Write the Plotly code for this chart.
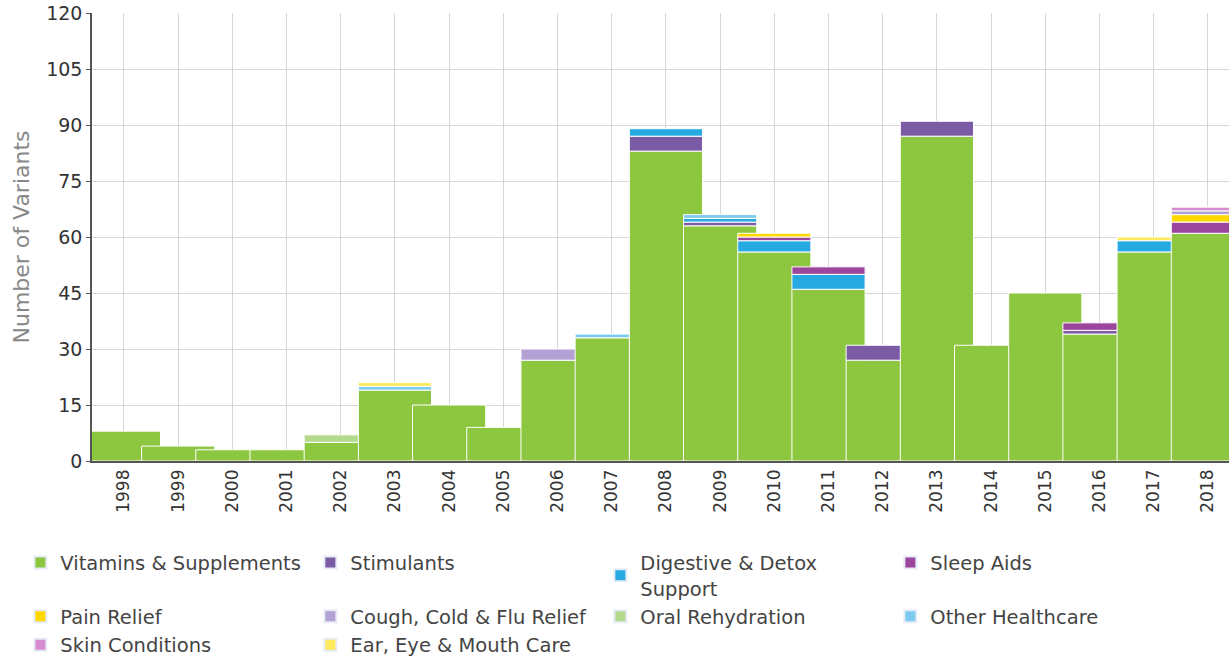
import plotly.graph_objects as go

years = list(range(1998, 2019))

series_names = [
    "Vitamins & Supplements",
    "Stimulants",
    "Digestive & Detox<br>Support",
    "Sleep Aids",
    "Pain Relief",
    "Cough, Cold & Flu Relief",
    "Oral Rehydration",
    "Other Healthcare",
    "Skin Conditions",
    "Ear, Eye & Mouth Care",
]

vitamins   = [8, 4, 3, 3, 5, 19, 15, 9, 27, 33, 83, 63, 56, 46, 27, 87, 31, 45, 34, 56, 61]
stimulants = [0, 0, 0, 0, 0, 0, 0, 0, 0, 0, 4, 1, 0, 0, 4, 4, 0, 0, 1, 0, 0]
digestive  = [0, 0, 0, 0, 0, 0, 0, 0, 0, 0, 2, 1, 3, 4, 0, 0, 0, 0, 0, 3, 0]
sleep_aids = [0, 0, 0, 0, 0, 0, 0, 0, 0, 0, 0, 0, 1, 2, 0, 0, 0, 0, 2, 0, 3]
pain       = [0, 0, 0, 0, 0, 0, 0, 0, 0, 0, 0, 0, 1, 0, 0, 0, 0, 0, 0, 0, 2]
cough      = [0, 0, 0, 0, 0, 0, 0, 0, 3, 0, 0, 0, 0, 0, 0, 0, 0, 0, 0, 0, 1]
oral       = [0, 0, 0, 0, 2, 0, 0, 0, 0, 0, 0, 0, 0, 0, 0, 0, 0, 0, 0, 0, 0]
other      = [0, 0, 0, 0, 0, 1, 0, 0, 0, 1, 0, 1, 0, 0, 0, 0, 0, 0, 0, 0, 0]
skin       = [0, 0, 0, 0, 0, 0, 0, 0, 0, 0, 0, 0, 0, 0, 0, 0, 0, 0, 0, 0, 1]
ear_eye    = [0, 0, 0, 0, 0, 1, 0, 0, 0, 0, 0, 0, 0, 0, 0, 0, 0, 0, 0, 1, 0]

series_values = [vitamins, stimulants, digestive, sleep_aids, pain,
                 cough, oral, other, skin, ear_eye]

colors = ["#8DC63F", "#7B5BA6", "#27A9E1", "#9B459C", "#FFD800",
          "#B3A0D4", "#B3D98C", "#7CCBEF", "#D88CD0", "#FFE95C"]

FONT = "DejaVu Sans"
BAR_W = 1.35

fig = go.Figure()

# legend entries
for i, (name, col) in enumerate(zip(series_names, colors)):
    fig.add_trace(go.Bar(x=[None], y=[None], name=name, marker_color=col,
                         legendgroup=name, showlegend=True, legendrank=i + 1))

# bars drawn year by year so later years overlap earlier ones
for yi, yr in enumerate(years):
    cum = 0
    for si, name in enumerate(series_names):
        v = series_values[si][yi]
        if v == 0:
            continue
        fig.add_trace(go.Bar(
            x=[yr], y=[v], base=[cum], width=BAR_W,
            marker=dict(color=colors[si], line=dict(color="white", width=1)),
            name=name, legendgroup=name, showlegend=False,
            hovertemplate=f"{yr}<br>{name}: {v}<extra></extra>",
        ))
        cum += v

fig.update_layout(
    width=1229, height=664,
    barmode="overlay",
    plot_bgcolor="white", paper_bgcolor="white",
    margin=dict(l=92, r=0, t=13, b=203, autoexpand=False),
    font=dict(family=FONT, color="#333333", size=17),
    xaxis=dict(
        range=[1997.41, 2018.39],
        tickmode="array", tickvals=years, ticktext=[str(y) for y in years],
        tickangle=-90, showgrid=True, gridcolor="#d6d6d6", gridwidth=1,
        showline=True, linecolor="#555555", linewidth=1.5,
        ticks="", tickfont=dict(size=17, color="#333333"),
        zeroline=False, automargin=False,
    ),
    yaxis=dict(
        range=[0, 120], tickmode="linear", tick0=0, dtick=15,
        showgrid=True, gridcolor="#d6d6d6", gridwidth=1,
        showline=True, linecolor="#555555", linewidth=1.5,
        ticks="outside", ticklen=4, tickcolor="#555555",
        tickfont=dict(size=19, color="#333333"),
        title=dict(text="Number of Variants", standoff=10,
                   font=dict(size=22, color="#888888")),
        zeroline=False, automargin=False,
    ),
    legend=dict(
        orientation="h", x=-0.063, xanchor="left", y=-0.184, yanchor="top",
        entrywidth=245, entrywidthmode="pixels",
        font=dict(size=19.5, color="#444444", family=FONT),
        itemsizing="constant", traceorder="normal",
        bgcolor="rgba(0,0,0,0)",
    ),
    showlegend=True,
)

fig.write_html(
    "out.html",
    config={"displayModeBar": False},
    post_script="document.body.style.margin='0';document.body.style.padding='0';",
)
